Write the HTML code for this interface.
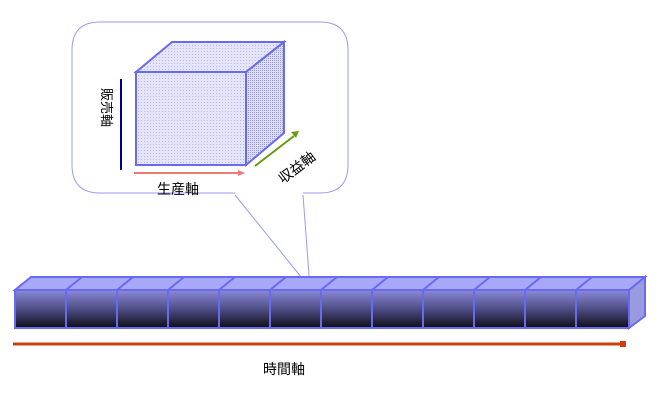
<!DOCTYPE html>
<html><head><meta charset="utf-8"><style>
body{margin:0;background:#fff;width:660px;height:402px;overflow:hidden;font-family:"Liberation Sans","Noto Sans CJK JP",sans-serif}
</style></head><body>
<svg width="660" height="402" viewBox="0 0 660 402" xmlns="http://www.w3.org/2000/svg">
<defs>
<linearGradient id="g" x1="0" y1="0" x2="0" y2="1">
<stop offset="0" stop-color="#8a8ad8"/><stop offset="0.5" stop-color="#4e4e86"/><stop offset="1" stop-color="#0e0e18"/>
</linearGradient>
<pattern id="h" width="3" height="3" patternUnits="userSpaceOnUse"><rect width="3" height="3" fill="#e4e4fa"/><rect width="1" height="1" fill="#b8b8ee"/></pattern>
<pattern id="h2" width="2" height="2" patternUnits="userSpaceOnUse"><rect width="2" height="2" fill="#ddddf6"/><rect width="1" height="1" fill="#9a9ad8"/></pattern>
</defs>
<!-- callout -->
<path d="M235,193 L100,193 Q72,193 72,165 L72,50 Q72,22 100,22 L320,22 Q348,22 348,50 L348,165 Q348,193 320,193 L303,193" fill="none" stroke="#9a9af0" stroke-width="1"/>
<line x1="235" y1="195" x2="310" y2="288" stroke="#9a9af0"/>
<line x1="303" y1="195" x2="310" y2="288" stroke="#9a9af0"/>
<!-- cube -->
<polygon points="136,72 172,42 284,42 246,72" fill="url(#h)" stroke="#6a6af0" stroke-width="2"/>
<polygon points="246,72 284,42 284,133 246,165" fill="url(#h2)" stroke="#6a6af0" stroke-width="2"/>
<rect x="136" y="72" width="110" height="93" fill="url(#h)" stroke="#6a6af0" stroke-width="2"/>
<line x1="121" y1="79" x2="121" y2="170" stroke="#000090" stroke-width="2"/>
<line x1="134" y1="173" x2="238" y2="173" stroke="#f07878" stroke-width="2"/>
<polygon points="238,170 245,173 238,176" fill="#f07878"/>
<line x1="255" y1="166" x2="294" y2="136" stroke="#6a9a10" stroke-width="2"/>
<polygon points="291,132 299,131 296,138" fill="#6a9a10"/>
<text x="0" y="0" font-size="13" transform="translate(102,88) rotate(90)" fill="#000">販売軸</text>
<text x="157" y="194" font-size="14" fill="#000">生産軸</text>
<text x="0" y="0" font-size="14" transform="translate(283,184) rotate(-37)" fill="#000">収益軸</text>
<!-- time boxes -->
<polygon points="15,290 31,277 645,277 629,290" fill="#a8a8f8" stroke="#6a6af0" stroke-width="2"/>
<polygon points="629,290 645,277 645,316 629,328" fill="#9a9ae0" stroke="#6a6af0" stroke-width="2"/>
<g stroke="#6a6af0" stroke-width="2">
<line x1="66" y1="290" x2="82" y2="277"/><line x1="117" y1="290" x2="133" y2="277"/><line x1="168" y1="290" x2="184" y2="277"/><line x1="219" y1="290" x2="235" y2="277"/><line x1="270" y1="290" x2="286" y2="277"/><line x1="321" y1="290" x2="337" y2="277"/><line x1="372" y1="290" x2="388" y2="277"/><line x1="423" y1="290" x2="439" y2="277"/><line x1="474" y1="290" x2="490" y2="277"/><line x1="525" y1="290" x2="541" y2="277"/><line x1="576" y1="290" x2="592" y2="277"/>
</g>
<rect x="15" y="290" width="614" height="38" fill="url(#g)" stroke="#6a6af0" stroke-width="2"/>
<g stroke="#6a6af0" stroke-width="2">
<line x1="66" y1="290" x2="66" y2="328"/><line x1="117" y1="290" x2="117" y2="328"/><line x1="168" y1="290" x2="168" y2="328"/><line x1="219" y1="290" x2="219" y2="328"/><line x1="270" y1="290" x2="270" y2="328"/><line x1="321" y1="290" x2="321" y2="328"/><line x1="372" y1="290" x2="372" y2="328"/><line x1="423" y1="290" x2="423" y2="328"/><line x1="474" y1="290" x2="474" y2="328"/><line x1="525" y1="290" x2="525" y2="328"/><line x1="576" y1="290" x2="576" y2="328"/>
</g>
<line x1="13" y1="344" x2="624" y2="344" stroke="#c84010" stroke-width="3"/>
<rect x="620" y="341" width="6" height="6" fill="#c84010"/>
<text x="263" y="374" font-size="14" fill="#000">時間軸</text>
</svg>
</body></html>
